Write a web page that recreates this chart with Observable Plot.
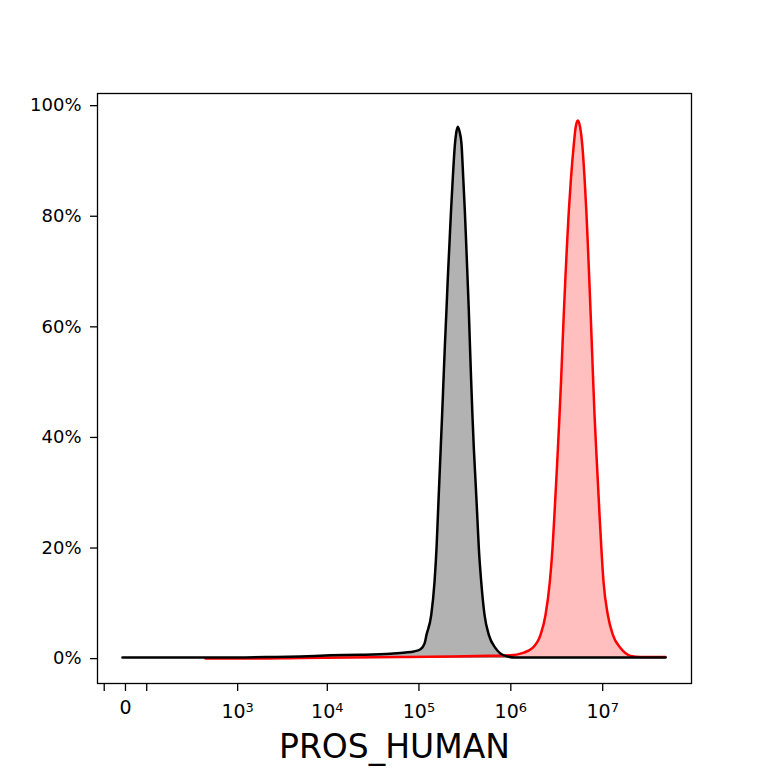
<!DOCTYPE html>
<html><head><meta charset="utf-8">
<script src="https://cdn.jsdelivr.net/npm/d3@7"></script>
<script src="https://cdn.jsdelivr.net/npm/@observablehq/plot@0.6"></script>
<style>
body{margin:0;background:#fff;}
svg{font-family:"DejaVu Sans";}
</style>
</head><body><div id="chart"></div>
<script>
// Channel intensity (x) and fraction of max count (y)
const blackX = [-5, 90, 628, 2360, 5075, 10900, 23130, 49060, 71450, 88000, 104000, 115000, 120900, 136100, 147800, 155400, 160900, 166700, 172600, 178800, 185200, 191800, 199200, 206300, 214700, 223500, 233800, 246400, 255200, 265000, 277900, 290800, 303400, 315900, 327100, 338000, 349100, 358900, 369800, 382100, 395700, 413000, 430900, 448600, 476400, 517600, 576400, 681800, 839500, 1125000, 3478000, 15640000, 48310000];
const blackY = [0.002, 0.002, 0.002, 0.003, 0.004, 0.006, 0.007, 0.009, 0.011, 0.013, 0.017, 0.027, 0.043, 0.079, 0.139, 0.200, 0.260, 0.321, 0.381, 0.441, 0.505, 0.568, 0.629, 0.689, 0.749, 0.810, 0.870, 0.930, 0.952, 0.962, 0.952, 0.930, 0.870, 0.810, 0.749, 0.689, 0.629, 0.568, 0.505, 0.441, 0.381, 0.321, 0.260, 0.200, 0.139, 0.079, 0.043, 0.019, 0.006, 0.002, 0.002, 0.002, 0.002];

const redX = [411, 1404, 5075, 18000, 63030, 220700, 601500, 993000, 1331000, 1711000, 2106000, 2387000, 2659000, 2845000, 2984000, 3122000, 3258000, 3391000, 3529000, 3655000, 3786000, 3930000, 4091000, 4280000, 4523000, 4852000, 5089000, 5364000, 5667000, 5989000, 6344000, 6637000, 6891000, 7136000, 7373000, 7617000, 7870000, 8150000, 8483000, 8852000, 9240000, 9667000, 10210000, 11380000, 12900000, 15640000, 20100000, 25820000, 48310000];
const redY = [0.000, 0.000, 0.001, 0.002, 0.003, 0.004, 0.005, 0.006, 0.010, 0.019, 0.043, 0.079, 0.139, 0.200, 0.260, 0.321, 0.381, 0.441, 0.505, 0.568, 0.629, 0.689, 0.749, 0.810, 0.870, 0.930, 0.962, 0.973, 0.962, 0.930, 0.870, 0.810, 0.749, 0.689, 0.629, 0.568, 0.505, 0.441, 0.381, 0.321, 0.260, 0.200, 0.139, 0.079, 0.043, 0.019, 0.005, 0.003, 0.003];

const xTicks = [-45, 0, 45, 1e3, 1e4, 1e5, 1e6, 1e7];
const xTickLabels = ["", "0", "", "10^3", "10^4", "10^5", "10^6", "10^7"];
const yTicks = [0, 0.2, 0.4, 0.6, 0.8, 1.0];
const xLabel = "PROS_HUMAN";

const black = blackX.map((x, i) => ({x, y: blackY[i]}));
const red = redX.map((x, i) => ({x, y: redY[i]}));
const curve = "monotone-x";

const chart = Plot.plot({
  width: 768, height: 768,
  marginLeft: 97, marginRight: 77, marginTop: 93, marginBottom: 85,
  style: {fontFamily: "DejaVu Sans", color: "black", background: "white"},
  x: {type: "symlog", constant: 64, domain: [-65, 9.26e7]},
  y: {domain: [-0.045, 1.022]},
  marks: [
    Plot.areaY(red, {x: "x", y: "y", fill: "red", fillOpacity: 0.25, curve}),
    Plot.areaY(black, {x: "x", y: "y", fill: "black", fillOpacity: 0.3, curve}),
    Plot.lineY(red, {x: "x", y: "y", stroke: "red", strokeWidth: 2.5, curve}),
    Plot.lineY(black, {x: "x", y: "y", stroke: "black", strokeWidth: 2.5, curve}),
    Plot.axisX({ticks: xTicks, tickFormat: (d) => xTickLabels[xTicks.indexOf(d)], tickSize: 8, tickPadding: 9, fontSize: 19, label: null, strokeWidth: 1.3}),
    Plot.axisY({ticks: yTicks, tickFormat: d3.format(".0%"), tickSize: 7, tickPadding: 9, fontSize: 18, label: null, strokeWidth: 1.3}),
    Plot.frame({strokeWidth: 1.3, stroke: "black"}),
    Plot.text([xLabel], {frameAnchor: "bottom", dy: 74, fontSize: 33, lineAnchor: "bottom", text: d => d})
  ]
});

// render 10^n labels with a raised exponent
chart.querySelectorAll('g[aria-label="x-axis tick label"] text').forEach(t => {
  const s = t.textContent;
  if (s.startsWith("10^")) {
    const ns = "http://www.w3.org/2000/svg";
    t.textContent = "";
    const base = document.createElementNS(ns, "tspan");
    base.setAttribute("dy", "0.22em");
    base.textContent = "10";
    const sup = document.createElementNS(ns, "tspan");
    sup.setAttribute("dy", "-0.5em");
    sup.setAttribute("font-size", "13");
    sup.textContent = s.slice(3);
    t.appendChild(base);
    t.appendChild(sup);
  }
});

document.getElementById("chart").appendChild(chart);
</script>
</body></html>
